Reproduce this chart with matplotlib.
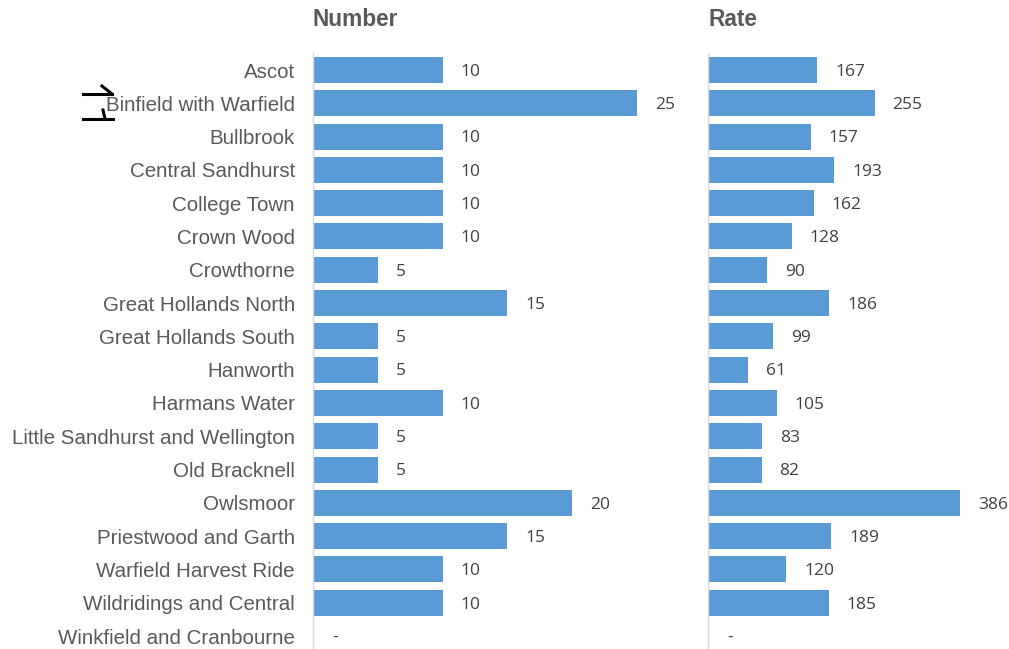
import numpy as np
import matplotlib.pyplot as plt
from matplotlib.lines import Line2D

wards = ["Ascot", "Binfield with Warfield", "Bullbrook", "Central Sandhurst",
         "College Town", "Crown Wood", "Crowthorne", "Great Hollands North",
         "Great Hollands South", "Hanworth", "Harmans Water",
         "Little Sandhurst and Wellington", "Old Bracknell", "Owlsmoor",
         "Priestwood and Garth", "Warfield Harvest Ride",
         "Wildridings and Central", "Winkfield and Cranbourne"]
number = [10, 25, 10, 10, 10, 10, 5, 15, 5, 5, 10, 5, 5, 20, 15, 10, 10, 0]
rate = [167, 255, 157, 193, 162, 128, 90, 186, 99, 61, 105, 83, 82, 386, 189, 120, 185, 0]

W, H = 1009, 649
fig = plt.figure(figsize=(W / 100, H / 100), dpi=100)

bar_col = "#5B9BD5"
lab_col = "#595959"
val_col = "#404040"

# rows: first centre at y=70px, last at y=636px
step = (636 - 70) / 17
top = 70 - step / 2
height = 18 * step
bottom = H - (top + height)

ax1 = fig.add_axes([313 / W, bottom / H, 30 * 12.96 / W, height / H])
ax2 = fig.add_axes([708 / W, bottom / H, 460 * 0.653 / W, height / H])

y = np.arange(len(wards))
for ax, vals, xmax, title in [(ax1, number, 30, "Number"), (ax2, rate, 460, "Rate")]:
    ax.barh(y, vals, height=0.78, color=bar_col)
    ax.set_xlim(0, xmax)
    ax.set_ylim(len(wards) - 0.5, -0.5)
    ax.set_xticks([])
    for s in ["top", "right", "bottom"]:
        ax.spines[s].set_visible(False)
    ax.spines["left"].set_color("#D9D9D9")
    ax.spines["left"].set_linewidth(1)
    for yi, v in zip(y, vals):
        txt = str(v) if v > 0 else "-"
        ax.annotate(txt, (v, yi), xytext=(13 if v > 0 else 14, -1.3),
                    textcoords="offset points", va="center", ha="left",
                    fontsize=12.5, color=val_col, family="Open Sans")
    # title sits near the very top of the figure
    x0 = ax.get_position().x0
    fig.text(x0, 1 - 20 / H, title, fontsize=16.3, fontweight="bold",
             color=lab_col, family="Liberation Sans", ha="left", va="center")

ax1.set_yticks(y)
ax1.set_yticklabels(wards, fontsize=14.8, color=lab_col, family="Liberation Sans")
ax1.tick_params(axis="y", length=0, pad=13)
ax2.set_yticks([])

# little cursor mark next to Binfield
def px(x, yy):
    return x / W, 1 - yy / H

for seg in [[(83, 94), (112, 94)], [(102, 86), (112, 94)],
            [(83, 119), (113, 119)], [(103, 110), (105, 119)]]:
    (xa, ya), (xb, yb) = seg
    a, b = px(xa, ya)
    c, d = px(xb, yb)
    fig.add_artist(Line2D([a, c], [b, d], color="black", lw=2.2))

fig.savefig("out.png", dpi=100)
